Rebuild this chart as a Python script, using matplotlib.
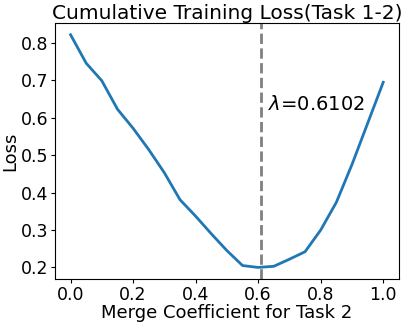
import numpy as np
import matplotlib.pyplot as plt

coef = [0.0, 0.05, 0.1, 0.15, 0.2, 0.25, 0.3, 0.35, 0.4, 0.45, 0.5,
        0.55, 0.6, 0.65, 0.7, 0.75, 0.8, 0.85, 0.9, 0.95, 1.0]
loss = [0.822, 0.746, 0.699, 0.623, 0.572, 0.515, 0.453, 0.381, 0.337, 0.290, 0.245,
        0.205, 0.200, 0.203, 0.222, 0.242, 0.300, 0.374, 0.475, 0.585, 0.695]
best = 0.6102

fig, ax = plt.subplots(figsize=(4.07, 3.26), dpi=100)
ax.plot(coef, loss, color='#1f77b4', linewidth=2)
ax.axvline(best, color='gray', linestyle='--', linewidth=2)
ax.text(best + 0.02, 0.62, r'$\lambda$=%.4f' % best, fontsize=14)
ax.set_title('Cumulative Training Loss(Task 1-2)', fontsize=14.5, pad=2)
ax.set_xlabel('Merge Coefficient for Task 2', fontsize=13, labelpad=0)
ax.set_ylabel('Loss', fontsize=13, labelpad=1)
ax.tick_params(labelsize=12.5, length=3, pad=2)
plt.subplots_adjust(left=0.135, right=0.98, top=0.929, bottom=0.144)
plt.savefig('out.png')
